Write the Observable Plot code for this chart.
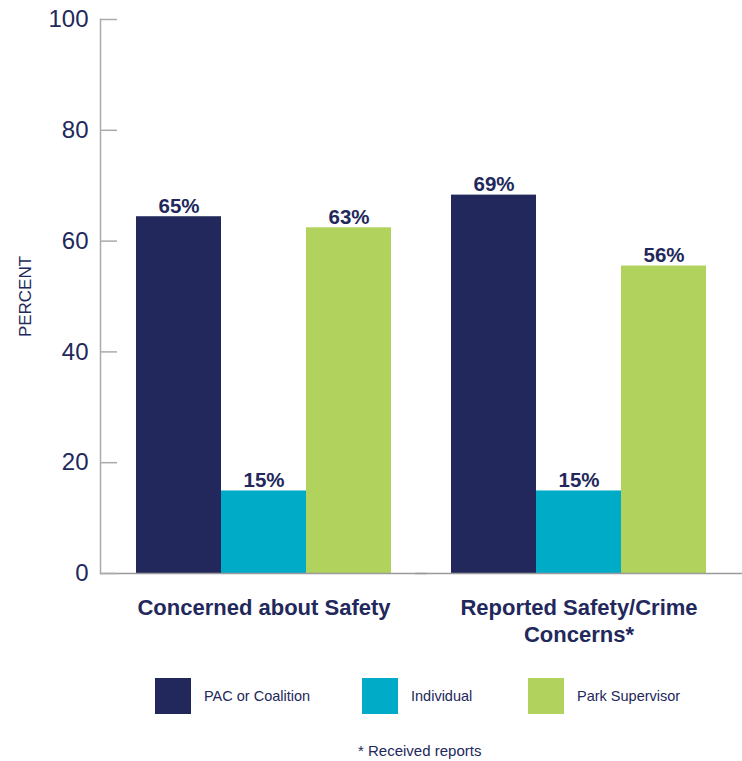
<!DOCTYPE html>
<html>
<head>
<meta charset="utf-8">
<script src="https://cdn.jsdelivr.net/npm/d3@7"></script>
<script src="https://cdn.jsdelivr.net/npm/@observablehq/plot@0.6"></script>
<style>
  html, body { margin: 0; padding: 0; background: #fff; }
  body { width: 742px; height: 761px; position: relative; font-family: "Liberation Sans", Arial, sans-serif; color: #22285b; }
  #legend { position: absolute; top: 678px; left: 0; width: 742px; height: 36px; }
  .item { position: absolute; top: 0; display: flex; align-items: center; height: 36px; }
  .sw { width: 36px; height: 36px; margin-right: 13px; }
  .lab { font-size: 14.5px; color: #22285b; }
  #caption { position: absolute; top: 742px; left: 358px; white-space: nowrap; font-size: 15px; color: #22285b; }
</style>
</head>
<body>
<div id="chart"></div>
<div id="legend"></div>
<div id="caption">* Received reports</div>
<script>
const groups = ["Concerned about Safety", "Reported Safety/Crime\nConcerns*"];
const series = ["PAC or Coalition", "Individual", "Park Supervisor"];
const colors = ["#22285b", "#00abc8", "#b1d25c"];
const concernedValues = [64.4, 14.9, 62.4];
const reportedValues = [68.3, 14.9, 55.5];
const concernedLabels = ["65%", "15%", "63%"];
const reportedLabels = ["69%", "15%", "56%"];
const yTicks = [0, 20, 40, 60, 80, 100];
const legendLeft = [155, 362, 528];

const navy = "#22285b";
const data = [];
series.forEach((s, i) => data.push({group: groups[0], series: s, value: concernedValues[i], label: concernedLabels[i]}));
series.forEach((s, i) => data.push({group: groups[1], series: s, value: reportedValues[i], label: reportedLabels[i]}));

const chart = Plot.plot({
  width: 742,
  height: 660,
  marginLeft: 100,
  marginRight: 0,
  marginTop: 19,
  marginBottom: 87,
  style: {fontFamily: "'Liberation Sans', Arial, sans-serif", color: navy, background: "#fff"},
  fx: {domain: groups, paddingInner: 0.1835, paddingOuter: 0.1076, label: null},
  x: {domain: series, padding: 0, axis: null},
  y: {domain: [0, 100], label: null},
  color: {domain: series, range: colors},
  marks: [
    Plot.barY(data, {fx: "group", x: "series", y: "value", fill: "series"}),
    Plot.ruleY([0], {stroke: "#9a9a9a", strokeWidth: 1.5, insetLeft: -35, insetRight: -35}),
    Plot.frame({anchor: "left", facetAnchor: "left", stroke: "#aaaaaa", strokeWidth: 1.5, dx: -35}),
    Plot.axisY({
      anchor: "left", ticks: yTicks, tickSize: -17, tickPadding: 29, dx: -35,
      stroke: "#aaaaaa", strokeWidth: 1.5, fill: navy, fontSize: 24, label: null
    }),
    Plot.text(["PERCENT"], {
      fx: [groups[0]], frameAnchor: "left", rotate: -90, dx: -110, textAnchor: "middle",
      fontSize: 17, fill: navy
    }),
    Plot.text(data, {
      fx: "group", x: "series", y: "value", text: "label", dy: -4, lineAnchor: "bottom",
      fontSize: 20.5, fontWeight: "bold", fill: navy
    }),
    Plot.axisFx({
      anchor: "bottom", tickSize: 0, tickPadding: 22, fontSize: 22, fontWeight: "bold",
      fill: navy, lineHeight: 1.23, label: null
    })
  ]
});
document.getElementById("chart").appendChild(chart);

const legend = document.getElementById("legend");
series.forEach((s, i) => {
  const it = document.createElement("div");
  it.className = "item";
  it.style.left = legendLeft[i] + "px";
  it.innerHTML = `<div class="sw" style="background:${colors[i]}"></div><span class="lab">${s}</span>`;
  legend.appendChild(it);
});
</script>
</body>
</html>
